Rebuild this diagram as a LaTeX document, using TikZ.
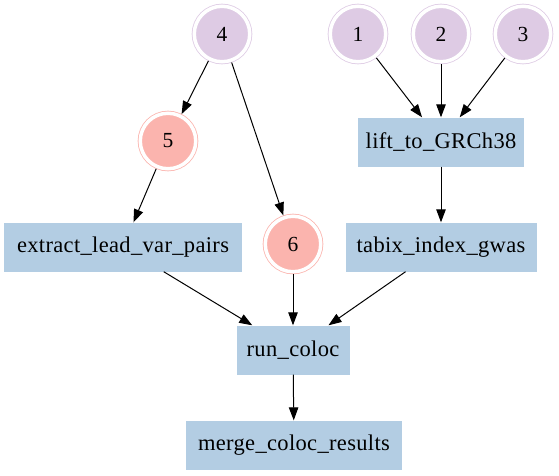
\documentclass[tikz,border=0pt]{standalone}
\usepackage{fontspec}
\setmainfont{Liberation Serif}[LetterSpace=1.5]
\usetikzlibrary{arrows.meta}
\definecolor{lav}{HTML}{DECBE4}
\definecolor{sal}{HTML}{FBB4AE}
\definecolor{pblue}{HTML}{B3CDE3}
\tikzset{
  dcirc/.style={circle, inner sep=0pt, minimum size=55.5pt, fill=#1, draw=#1,
    line width=0.8pt, double=white, double distance=3.5pt, outer sep=2.4pt,
    font=\fontsize{21.5}{24}\selectfont},
  task/.style={rectangle, fill=pblue, inner sep=0pt, minimum height=49pt,
    font=\fontsize{22.5}{25}\selectfont},
  edge/.style={line width=1pt, -{Triangle[length=13pt,width=9.5pt]}}
}
\begin{document}
\begin{tikzpicture}[x=1pt,y=-1pt]
\useasboundingbox (0,0) rectangle (559,475);
\node[dcirc=lav] (n4) at (222,34) {4};
\node[dcirc=lav] (n1) at (358,34) {1};
\node[dcirc=lav] (n2) at (441,34) {2};
\node[dcirc=lav] (n3) at (523,34) {3};
\node[dcirc=sal] (n5) at (168,141) {5};
\node[dcirc=sal] (n6) at (293,244) {6};
\node[task, minimum width=166pt] (lift) at (441,142) {lift\_to\_GRCh38};
\node[task, minimum width=238pt] (extract) at (123,247) {extract\_lead\_var\_pairs};
\node[task, minimum width=191pt] (tabix) at (441,247) {tabix\_index\_gwas};
\node[task, minimum width=113pt] (run) at (293,350) {run\_coloc};
\node[task, minimum width=216pt] (merge) at (294,445) {merge\_coloc\_results};
\draw[edge] (n4) -- (n5);
\draw[edge] (n4) -- (n6);
\draw[edge] (n1) -- (lift);
\draw[edge] (n2) -- (lift);
\draw[edge] (n3) -- (lift);
\draw[edge] (n5) -- (extract);
\draw[edge] (lift) -- (tabix);
\draw[edge] (extract) -- (run);
\draw[edge] (n6) -- (run);
\draw[edge] (tabix) -- (run);
\draw[edge] (run) -- (merge);
\end{tikzpicture}
\end{document}
